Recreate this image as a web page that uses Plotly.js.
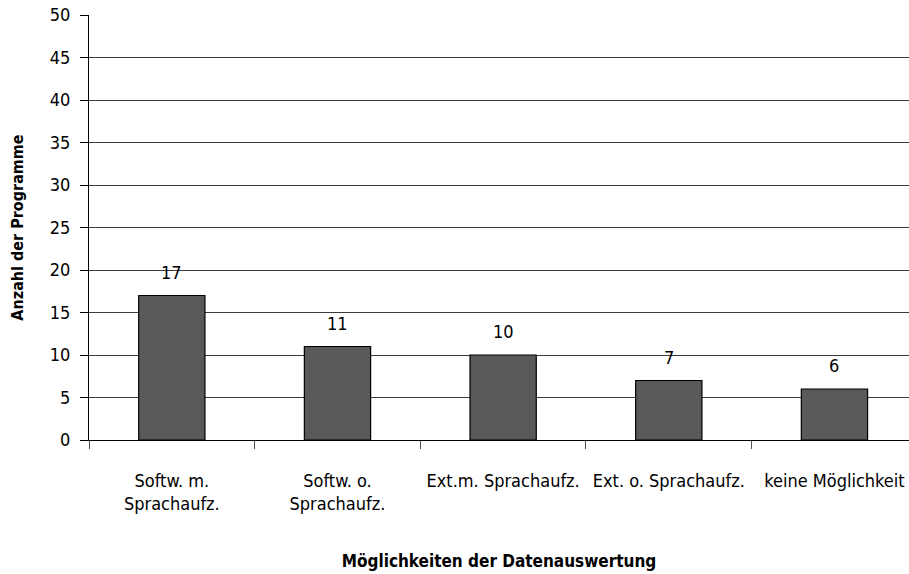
<!DOCTYPE html>
<html>
<head>
<meta charset="utf-8">
<script src="https://cdn.plot.ly/plotly-3.0.1.min.js"></script>
<style>html,body{margin:0;padding:0;background:#fff;}#chart{width:909px;height:574px;}</style>
</head>
<body>
<div id="chart"></div>
<script>
const categories = ["Softw. m.<br>Sprachaufz.", "Softw. o.<br>Sprachaufz.", "Ext.m. Sprachaufz.", "Ext. o. Sprachaufz.", "keine Möglichkeit"];
const values = [17, 11, 10, 7, 6];
const yTicks = [0, 5, 10, 15, 20, 25, 30, 35, 40, 45, 50];

const FONT = '"Liberation Sans Narrow", "DejaVu Sans Condensed", sans-serif';

const trace = {
  type: 'bar',
  x: categories,
  y: values,
  width: 0.4,
  marker: {color: '#595959', line: {color: '#000000', width: 1.2}},
  hoverinfo: 'skip'
};

const annotations = categories.map((c, i) => ({
  x: c, y: values[i], text: String(values[i]),
  showarrow: false, yanchor: 'bottom', yshift: 11,
  font: {family: FONT, size: 18, color: '#000'}
}));

const layout = {
  width: 909, height: 574,
  margin: {l: 89, r: 0, t: 15, b: 134},
  paper_bgcolor: '#fff', plot_bgcolor: '#fff',
  showlegend: false,
  font: {family: FONT, size: 18, color: '#000'},
  xaxis: {
    type: 'category',
    range: [-0.5, 4.45],
    showgrid: false,
    showline: true, linecolor: '#000', linewidth: 1,
    ticks: 'outside', tickson: 'boundaries', ticklen: 8, tickcolor: '#555', tickwidth: 1,
    ticklabelstandoff: 24,
    tickfont: {family: FONT, size: 18, color: '#000'},
    title: {text: '<b>Möglichkeiten der Datenauswertung</b>', font: {family: FONT, size: 17, color: '#000'}, standoff: 42},
    fixedrange: true
  },
  yaxis: {
    range: [0, 50],
    tickvals: yTicks,
    showgrid: true, gridcolor: '#3a3a3a', gridwidth: 1,
    showline: true, linecolor: '#000', linewidth: 1,
    zeroline: false,
    ticks: 'outside', ticklen: 8, tickcolor: '#000', tickwidth: 1,
    ticklabelstandoff: 6,
    tickfont: {family: FONT, size: 18, color: '#000'},
    title: {text: '<b>Anzahl der Programme</b>', font: {family: FONT, size: 16, color: '#000'}, standoff: 22},
    fixedrange: true
  },
  annotations: annotations
};

Plotly.newPlot('chart', [trace], layout, {displayModeBar: false, staticPlot: true});
</script>
</body>
</html>
